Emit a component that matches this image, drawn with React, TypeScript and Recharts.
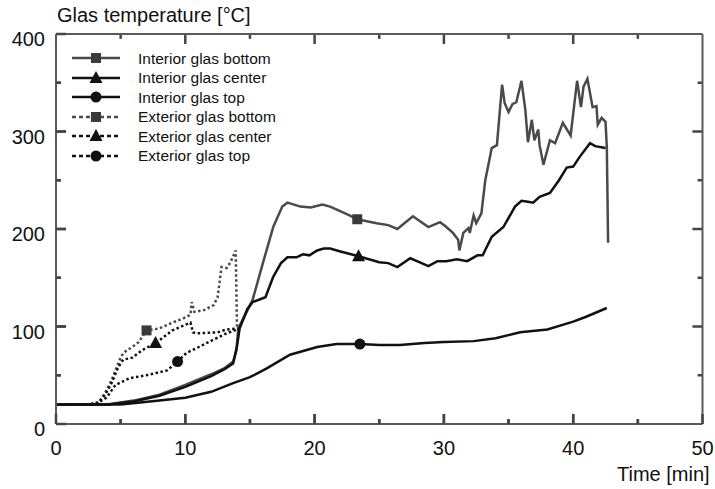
import React from 'react';
import { LineChart, Line, XAxis, YAxis, ReferenceLine } from 'recharts';

type P = [number, number];

const interiorBottom: P[] = [
  [0, 20], [4, 20], [6, 24], [8, 30], [10, 40], [12, 51], [13, 57], [13.7, 64], [13.95, 75], [14.1, 98],
  [15.2, 127], [16, 165], [16.8, 202], [17.5, 223], [17.9, 227], [18.9, 223], [19.7, 222], [20.6, 225],
  [21.2, 223], [22.7, 214], [23.3, 210], [24.8, 206], [25.7, 204], [26.4, 200], [27.6, 213], [28.8, 202],
  [29.7, 207], [30.1, 203], [30.7, 196], [31.1, 189], [31.2, 178], [31.5, 196], [31.9, 201], [32, 196],
  [32.3, 214], [32.5, 206], [32.9, 216], [33.2, 250], [33.7, 283], [34.1, 286], [34.5, 348], [34.7, 329],
  [35, 320], [35.3, 328], [35.6, 330], [36, 352], [36.3, 322], [36.5, 289], [36.8, 312], [37, 291],
  [37.3, 302], [37.4, 286], [37.7, 266], [38.2, 291], [38.6, 288], [39.2, 309], [39.8, 296], [40.3, 352],
  [40.6, 325], [40.8, 346], [41.1, 354], [41.5, 325], [41.8, 326], [41.9, 307], [42.2, 314], [42.5, 310],
  [42.6, 284], [42.7, 186],
];

const interiorCenter: P[] = [
  [0, 20], [4, 20], [6, 23], [8, 29], [10, 38], [12, 49], [13, 56], [13.7, 62], [14, 80], [14.2, 98],
  [14.8, 118], [15.2, 125], [16.2, 130], [16.8, 151], [17.4, 165], [17.9, 171], [18.6, 171], [19.1, 174],
  [19.6, 173], [20.2, 178], [20.7, 180], [21.2, 180], [22, 177], [23.4, 172], [25, 166], [25.7, 165],
  [26.4, 161], [27.4, 170], [28.1, 166], [28.8, 162], [29.5, 167], [30.2, 167], [31, 169], [31.8, 167],
  [32.6, 173], [33, 173], [33.7, 192], [34.6, 202], [35.5, 223], [36, 229], [36.5, 228], [36.9, 227],
  [37.4, 233], [38.2, 237], [38.9, 250], [39.5, 263], [40, 264], [40.5, 274], [41.3, 288], [41.7, 285],
  [42.5, 283],
];

const interiorTop: P[] = [
  [0, 20], [5, 20], [8, 24], [10, 27], [12, 33], [13.7, 42], [15, 48], [16.3, 57], [18.1, 71], [20.2, 79],
  [21.7, 82], [23.5, 82], [25, 81], [26.6, 81], [28.5, 83], [30, 84], [32.3, 85], [34, 88], [35.9, 94],
  [38, 97], [40, 105], [41, 110], [42.6, 119],
];

const exteriorBottom: P[] = [
  [0, 20], [2.5, 20], [3.3, 22], [3.8, 32], [4.3, 45], [4.6, 55], [4.9, 65], [5.2, 73], [5.9, 79],
  [6.4, 84], [7, 96], [8, 98], [9, 104], [9.8, 108], [10.4, 112], [10.5, 125], [10.7, 115], [11.5, 117],
  [12.2, 122], [12.5, 130], [12.8, 161], [13.2, 160], [13.5, 166], [13.9, 178], [14, 98], [14.2, 98],
];

const exteriorCenter: P[] = [
  [0, 20], [2.5, 20], [3.3, 22], [3.8, 30], [4.3, 42], [4.8, 58], [5.2, 66], [5.9, 68], [6.7, 76],
  [7.7, 83], [9, 96], [10.4, 104], [10.6, 94], [10.9, 93], [12.5, 94], [13.2, 97], [14.2, 98],
];

const exteriorTop: P[] = [
  [0, 20], [3, 20], [3.9, 27], [4.6, 40], [5.7, 47], [7, 50], [8.6, 55], [9.4, 64], [10.1, 73],
  [10.9, 78], [12.1, 86], [13.2, 93], [14.2, 98],
];

const xTicks = [0, 5, 10, 15, 20, 25, 30, 35, 40, 45, 50];
const yTicks = [0, 50, 100, 150, 200, 250, 300, 350, 400];
const X_MAX = 50;
const Y_MAX = 400;

type Shape = 'square' | 'triangle' | 'circle';

interface Series {
  name: string;
  data: P[];
  markerT: number;
  shape: Shape;
  color: string;
  dashed: boolean;
}

const series: Series[] = [
  { name: 'Interior glas bottom', data: interiorBottom, markerT: 23.3, shape: 'square', color: '#4a4a4a', dashed: false },
  { name: 'Interior glas center', data: interiorCenter, markerT: 23.4, shape: 'triangle', color: '#111', dashed: false },
  { name: 'Interior glas top', data: interiorTop, markerT: 23.5, shape: 'circle', color: '#111', dashed: false },
  { name: 'Exterior glas bottom', data: exteriorBottom, markerT: 7, shape: 'square', color: '#4a4a4a', dashed: true },
  { name: 'Exterior glas center', data: exteriorCenter, markerT: 7.7, shape: 'triangle', color: '#111', dashed: true },
  { name: 'Exterior glas top', data: exteriorTop, markerT: 9.4, shape: 'circle', color: '#111', dashed: true },
];

const FONT = '"Liberation Sans", Arial, sans-serif';
const AXIS = '#5a5a5a';
const TICK = '#444';

// tick lengths expressed in axis units (about 10px / 5px)
const X_TICK_MAJOR = 10.3; // in y units
const X_TICK_MINOR = 5;
const Y_TICK_MAJOR = 0.78; // in x units
const Y_TICK_MINOR = 0.38;

function Marker({ shape, cx, cy, color }: { shape: Shape; cx: number; cy: number; color: string }) {
  if (shape === 'square') return <rect x={cx - 5} y={cy - 5} width={10} height={10} fill={color} />;
  if (shape === 'triangle')
    return <polygon points={`${cx},${cy - 7} ${cx + 6.5},${cy + 5} ${cx - 6.5},${cy + 5}`} fill={color} />;
  return <circle cx={cx} cy={cy} r={5.5} fill={color} />;
}

const markerColor = (s: Series) => (s.color === '#111' ? '#111' : '#3a3a3a');

const makeDot = (s: Series) => (p: any) => {
  const key = p.key ?? `d-${p.index}`;
  if (p.payload && p.payload.t === s.markerT) {
    return (
      <g key={key}>
        <Marker shape={s.shape} cx={p.cx} cy={p.cy} color={markerColor(s)} />
      </g>
    );
  }
  return <g key={key} />;
};

const bottomTick = (props: any) => {
  const { x, y, payload } = props;
  const v = payload.value as number;
  const major = v % 10 === 0;
  const len = major ? 10 : 5;
  return (
    <g>
      <line x1={x} y1={y} x2={x} y2={y - len} stroke={TICK} strokeWidth={2.5} />
      {major && (
        <text x={x} y={y + 31} textAnchor="middle" fontSize={20} fontFamily={FONT} fill="#111" stroke="none">
          {v}
        </text>
      )}
    </g>
  );
};

const leftTick = (props: any) => {
  const { x, y, payload } = props;
  const v = payload.value as number;
  const major = v % 100 === 0;
  const len = major ? 10 : 5;
  return (
    <g>
      <line x1={x} y1={y} x2={x + len} y2={y} stroke={TICK} strokeWidth={2.5} />
      {major && (
        <text x={x - 11} y={y + 12} textAnchor="end" fontSize={20} fontFamily={FONT} fill="#111" stroke="none">
          {v}
        </text>
      )}
    </g>
  );
};

function LegendBox() {
  return (
    <div
      style={{
        position: 'absolute',
        left: 72,
        top: 48.5,
        fontFamily: FONT,
        fontSize: 15.5,
        color: '#111',
      }}
    >
      {series.map((s) => (
        <div key={s.name} style={{ display: 'flex', alignItems: 'center', height: 19.55 }}>
          <svg width={66} height={20} style={{ display: 'block' }}>
            <line
              x1={0}
              y1={10}
              x2={48}
              y2={10}
              stroke={s.color}
              strokeWidth={2.5}
              strokeDasharray={s.dashed ? '4 3' : undefined}
            />
            <Marker shape={s.shape} cx={24} cy={10} color={markerColor(s)} />
          </svg>
          <span style={{ lineHeight: '19.55px', whiteSpace: 'nowrap' }}>{s.name}</span>
        </div>
      ))}
    </div>
  );
}

export default function App() {
  return (
    <div style={{ position: 'absolute', left: 0, top: 0, width: 715, height: 489, background: '#fff' }}>
      <LineChart width={715} height={489} margin={{ top: 0, right: 0, bottom: 0, left: 0 }}>
        <XAxis
          xAxisId={0}
          type="number"
          dataKey="t"
          domain={[0, X_MAX]}
          ticks={xTicks}
          interval={0}
          height={65}
          tickSize={0}
          tickMargin={0}
          axisLine={{ stroke: AXIS, strokeWidth: 2 }}
          tickLine={false}
          tick={bottomTick}
        />
        <XAxis
          xAxisId="top"
          orientation="top"
          type="number"
          dataKey="t"
          domain={[0, X_MAX]}
          ticks={xTicks}
          interval={0}
          height={34}
          tickSize={0}
          tickMargin={0}
          axisLine={{ stroke: AXIS, strokeWidth: 2 }}
          tickLine={false}
          tick={false}
        />
        <YAxis
          yAxisId={0}
          type="number"
          domain={[0, Y_MAX]}
          ticks={yTicks}
          interval={0}
          width={56}
          tickSize={0}
          tickMargin={0}
          axisLine={{ stroke: AXIS, strokeWidth: 2 }}
          tickLine={false}
          tick={leftTick}
        />
        <YAxis
          yAxisId="right"
          orientation="right"
          type="number"
          domain={[0, Y_MAX]}
          ticks={yTicks}
          interval={0}
          width={12.5}
          tickSize={0}
          tickMargin={0}
          axisLine={{ stroke: AXIS, strokeWidth: 2 }}
          tickLine={false}
          tick={false}
        />
        {xTicks
          .filter((t) => t > 0 && t < X_MAX)
          .map((t) => (
            <ReferenceLine
              key={`xt${t}`}
              segment={[{ x: t, y: Y_MAX }, { x: t, y: Y_MAX - (t % 10 === 0 ? X_TICK_MAJOR : X_TICK_MINOR) }]}
              stroke={TICK}
              strokeWidth={2.5}
              ifOverflow="visible"
            />
          ))}
        {xTicks
          .filter((t) => t > 0 && t < X_MAX)
          .map((t) => (
            <ReferenceLine
              key={`xb${t}`}
              segment={[{ x: t, y: 0 }, { x: t, y: t % 10 === 0 ? X_TICK_MAJOR : X_TICK_MINOR }]}
              stroke={TICK}
              strokeWidth={2.5}
              ifOverflow="visible"
            />
          ))}
        {yTicks
          .filter((v) => v > 0 && v < Y_MAX)
          .map((v) => (
            <ReferenceLine
              key={`yr${v}`}
              segment={[{ x: X_MAX, y: v }, { x: X_MAX - (v % 100 === 0 ? Y_TICK_MAJOR : Y_TICK_MINOR), y: v }]}
              stroke={TICK}
              strokeWidth={2.5}
              ifOverflow="visible"
            />
          ))}
        {yTicks
          .filter((v) => v > 0 && v < Y_MAX)
          .map((v) => (
            <ReferenceLine
              key={`yl${v}`}
              segment={[{ x: 0, y: v }, { x: v % 100 === 0 ? Y_TICK_MAJOR : Y_TICK_MINOR, y: v }]}
              stroke={TICK}
              strokeWidth={2.5}
              ifOverflow="visible"
            />
          ))}
        {series.map((s) => (
          <Line
            key={s.name}
            name={s.name}
            data={s.data.map(([t, v]) => ({ t, v }))}
            dataKey="v"
            type="linear"
            stroke={s.color}
            strokeWidth={2.5}
            strokeDasharray={s.dashed ? '2.5 2.5' : undefined}
            dot={makeDot(s)}
            activeDot={false}
            isAnimationActive={false}
          />
        ))}
      </LineChart>
      <LegendBox />
      <div
        style={{
          position: 'absolute',
          left: 57,
          top: 5,
          fontFamily: FONT,
          fontSize: 20,
          lineHeight: 1,
          color: '#111',
          whiteSpace: 'nowrap',
        }}
      >
        Glas temperature [°C]
      </div>
      <div
        style={{
          position: 'absolute',
          left: 617,
          top: 464,
          fontFamily: FONT,
          fontSize: 20,
          lineHeight: 1,
          color: '#111',
          whiteSpace: 'nowrap',
        }}
      >
        Time [min]
      </div>
    </div>
  );
}
